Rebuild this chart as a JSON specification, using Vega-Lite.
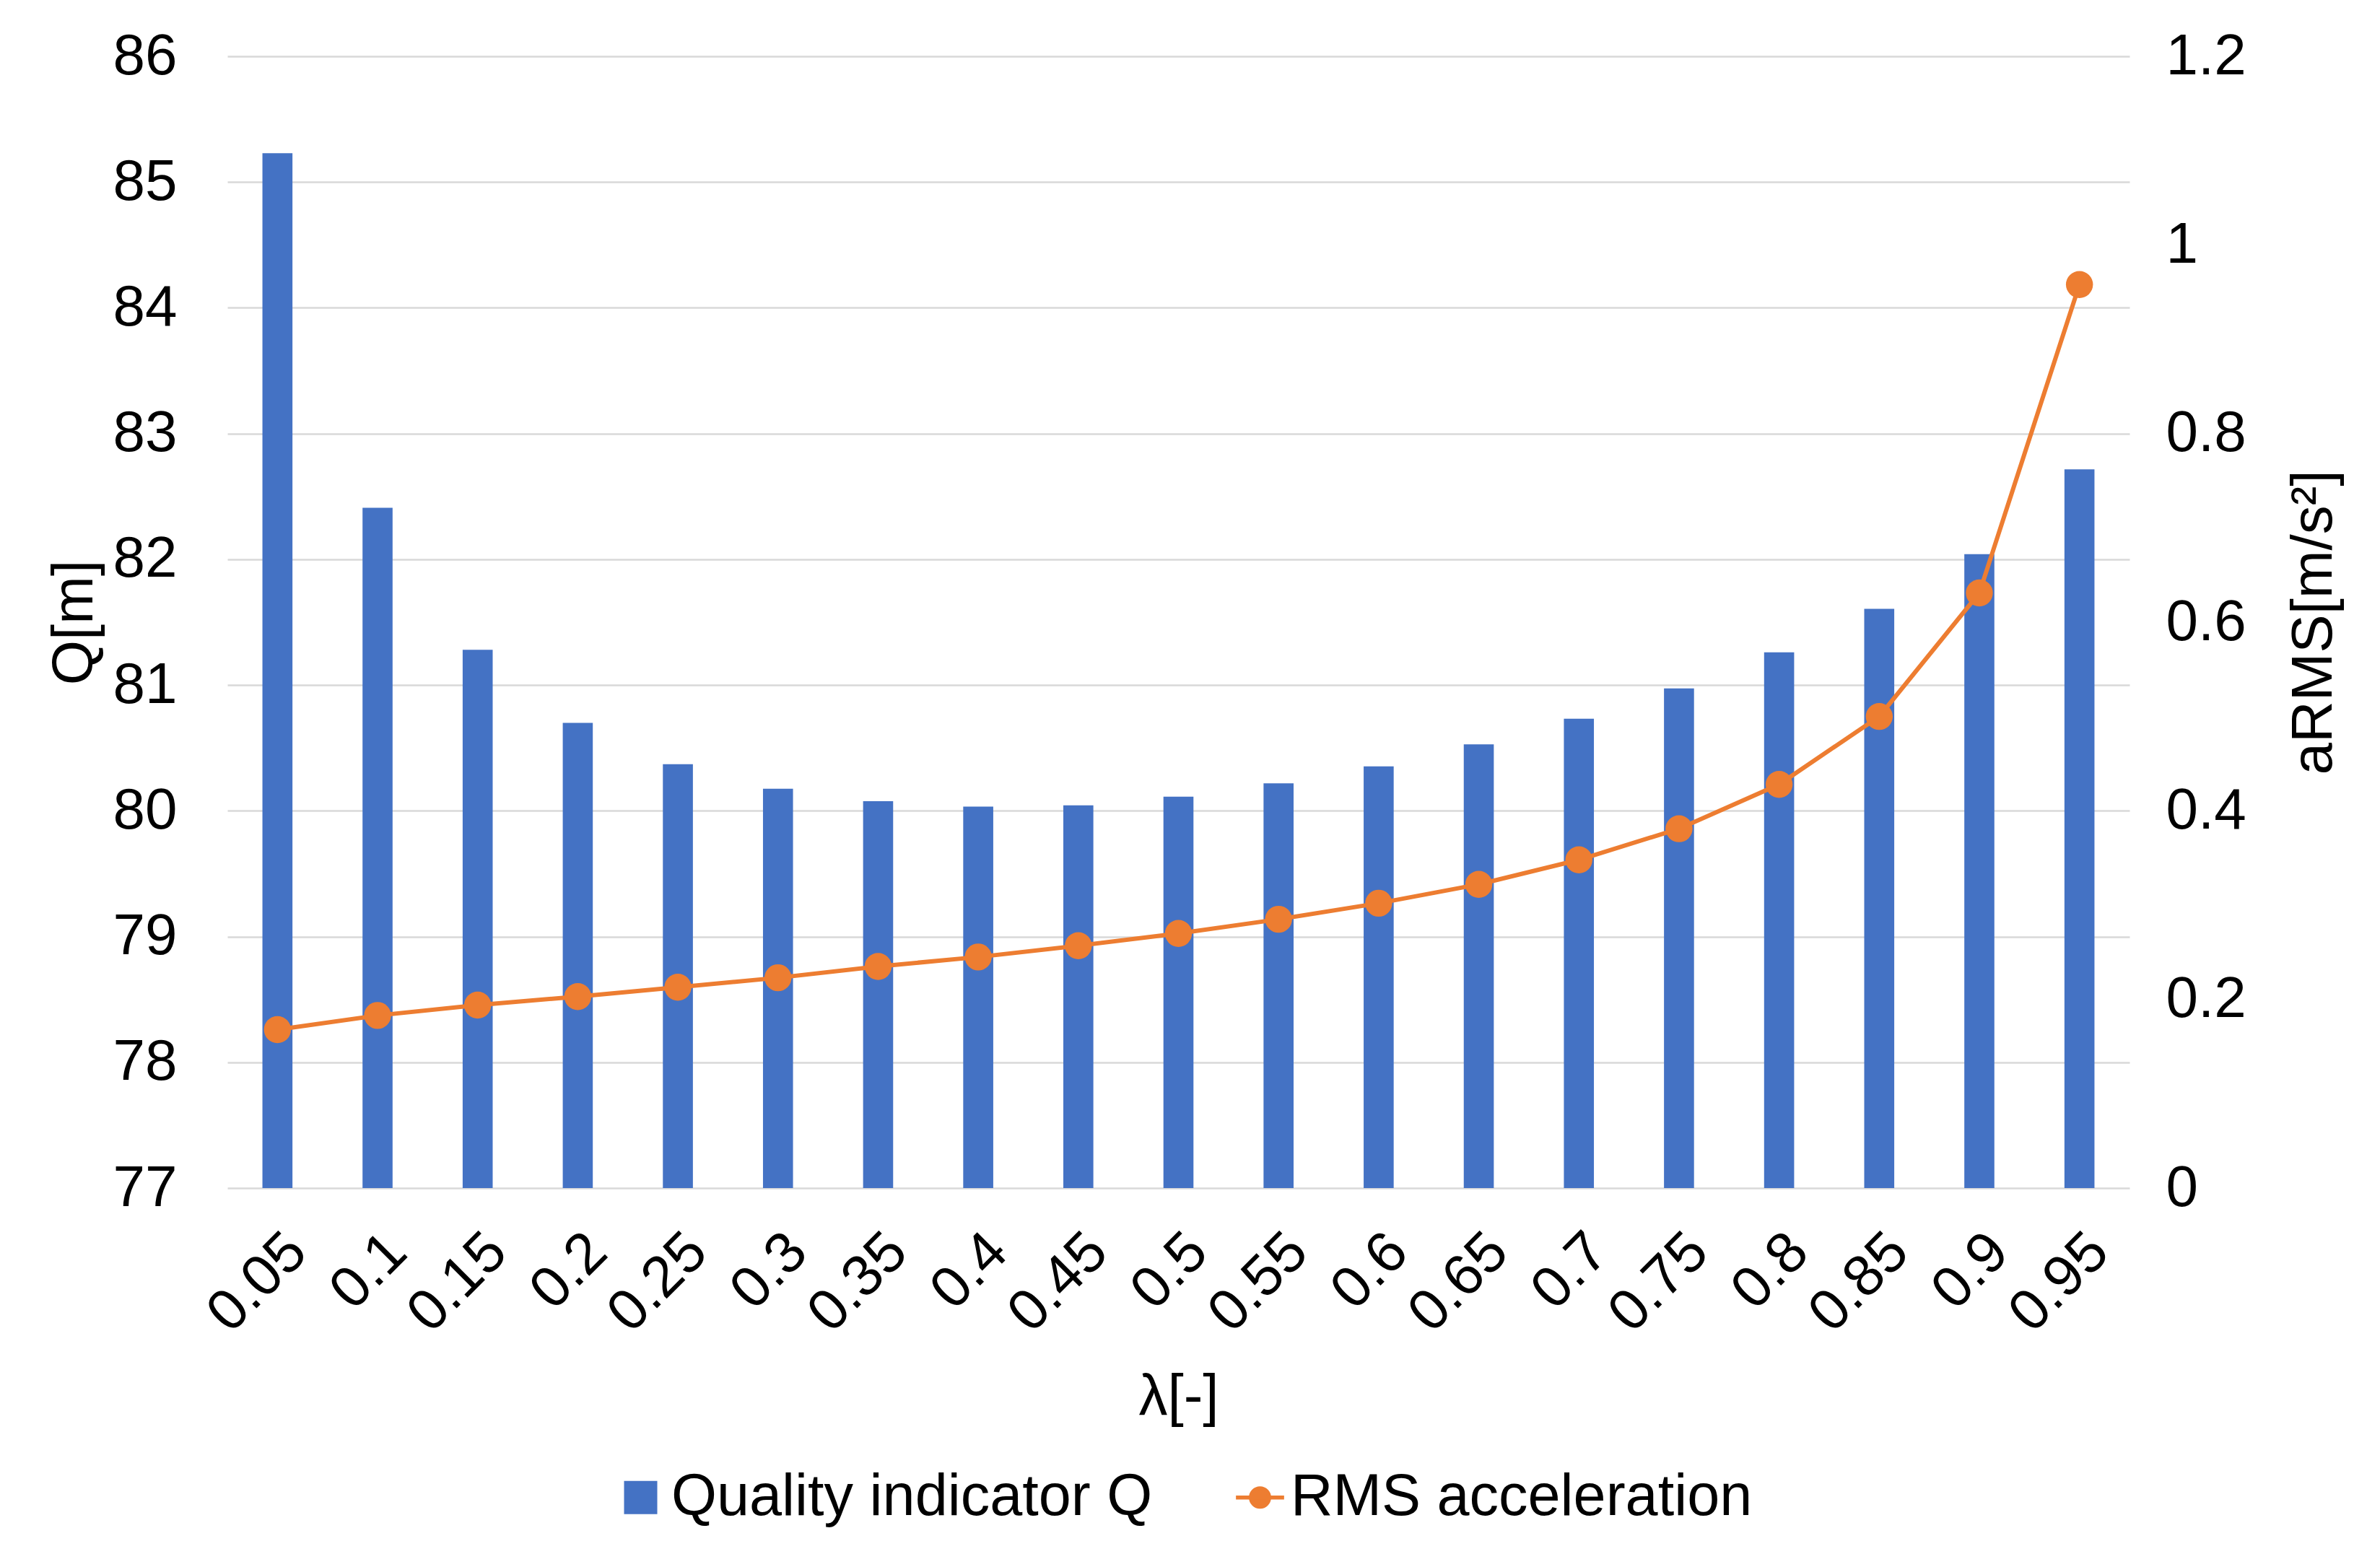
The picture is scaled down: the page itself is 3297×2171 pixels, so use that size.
{
  "$schema": "https://vega.github.io/schema/vega-lite/v6.json",
  "width": 2635,
  "height": 1568,
  "autosize": {"type": "none"},
  "padding": {"left": 315, "top": 78, "right": 347, "bottom": 525},
  "background": "white",
  "config": {
    "font": "Liberation Sans",
    "view": {"stroke": null},
    "axis": {
      "labelFontSize": 80,
      "titleFontSize": 80,
      "labelColor": "#000000",
      "titleColor": "#000000",
      "titleFontWeight": "normal",
      "labelLimit": 1000,
      "ticks": false,
      "domain": false,
      "gridColor": "#d9d9d9",
      "gridWidth": 2.5
    },
    "legend": {"labelFontSize": 81, "labelColor": "#000000", "labelLimit": 2000}
  },
  "data": {
    "values": [
      {"lambda": "0.05", "Q": 85.23, "a": 0.168},
      {"lambda": "0.1", "Q": 82.41, "a": 0.183},
      {"lambda": "0.15", "Q": 81.28, "a": 0.194},
      {"lambda": "0.2", "Q": 80.70, "a": 0.203},
      {"lambda": "0.25", "Q": 80.37, "a": 0.213},
      {"lambda": "0.3", "Q": 80.175, "a": 0.223},
      {"lambda": "0.35", "Q": 80.077, "a": 0.235},
      {"lambda": "0.4", "Q": 80.034, "a": 0.245},
      {"lambda": "0.45", "Q": 80.044, "a": 0.257},
      {"lambda": "0.5", "Q": 80.113, "a": 0.270},
      {"lambda": "0.55", "Q": 80.219, "a": 0.285},
      {"lambda": "0.6", "Q": 80.354, "a": 0.302},
      {"lambda": "0.65", "Q": 80.529, "a": 0.322},
      {"lambda": "0.7", "Q": 80.733, "a": 0.348},
      {"lambda": "0.75", "Q": 80.974, "a": 0.381},
      {"lambda": "0.8", "Q": 81.26, "a": 0.428},
      {"lambda": "0.85", "Q": 81.606, "a": 0.500},
      {"lambda": "0.9", "Q": 82.041, "a": 0.631},
      {"lambda": "0.95", "Q": 82.715, "a": 0.958}
    ]
  },
  "encoding": {
    "x": {
      "field": "lambda",
      "type": "ordinal",
      "sort": null,
      "scale": {"paddingInner": 0.7, "paddingOuter": 0.35},
      "axis": {
        "title": "λ[-]",
        "labelAngle": -45,
        "labelAlign": "right",
        "labelBaseline": "top",
        "labelPadding": 48,
        "titlePadding": 50
      }
    }
  },
  "layer": [
    {
      "mark": {"type": "bar", "color": "#4472C4"},
      "encoding": {
        "y": {
          "field": "Q",
          "type": "quantitative",
          "scale": {"domain": [77, 86], "nice": false, "zero": false},
          "axis": {
            "title": "Q[m]",
            "values": [77, 78, 79, 80, 81, 82, 83, 84, 85, 86],
            "grid": true,
            "labelPadding": 70,
            "titlePadding": 12
          }
        },
        "y2": {"datum": 77},
        "color": {
          "datum": "Quality indicator Q",
          "type": "nominal",
          "scale": {
            "domain": ["Quality indicator Q", "RMS acceleration"],
            "range": ["#4472C4", "#ED7D31"]
          },
          "legend": {
            "orient": "none",
            "legendX": 532,
            "legendY": 1956,
            "direction": "horizontal",
            "title": null,
            "symbolSize": 2116,
            "labelOffset": 2,
            "columnPadding": 104,
            "encode": {
              "symbols": {
                "update": {
                  "shape": {"signal": "datum.value === 'RMS acceleration' ? 'M-1.45,0L1.45,0M0.55,0A0.55,0.55,0,1,1,-0.55,0A0.55,0.55,0,1,1,0.55,0' : 'square'"},
                  "fill": {"signal": "datum.value === 'RMS acceleration' ? '#ED7D31' : '#4472C4'"},
                  "stroke": {"signal": "datum.value === 'RMS acceleration' ? '#ED7D31' : '#4472C4'"},
                  "strokeWidth": {"signal": "datum.value === 'RMS acceleration' ? 5.5 : 0"},
                  "opacity": {"value": 1},
                  "fillOpacity": {"value": 1}
                }
              }
            }
          }
        }
      }
    },
    {
      "mark": {
        "type": "line",
        "strokeWidth": 6,
        "point": {"filled": true, "size": 1400, "opacity": 1}
      },
      "encoding": {
        "y": {
          "field": "a",
          "type": "quantitative",
          "scale": {"domain": [0, 1.2], "nice": false},
          "axis": {
            "orient": "right",
            "title": "aRMS[m/s²]",
            "titleAngle": 270,
            "titleBaseline": "top",
            "values": [0, 0.2, 0.4, 0.6, 0.8, 1, 1.2],
            "format": "~g",
            "grid": false,
            "labelPadding": 50,
            "titlePadding": 55
          }
        },
        "color": {"datum": "RMS acceleration", "type": "nominal"}
      }
    }
  ],
  "resolve": {"scale": {"y": "independent"}}
}
